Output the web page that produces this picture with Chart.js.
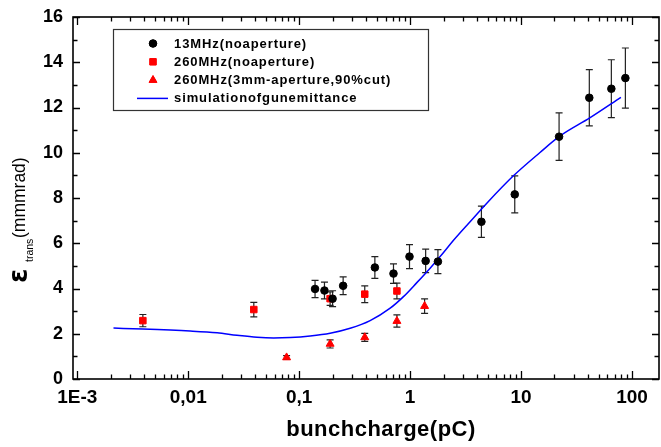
<!DOCTYPE html>
<html>
<head>
<meta charset="utf-8">
<script src="https://cdn.jsdelivr.net/npm/chart.js@4.4.0/dist/chart.umd.min.js"></script>
<style>
html,body{margin:0;padding:0;background:#fff;}
#wrap{width:661px;height:447px;}
</style>
</head>
<body>
<div id="wrap"><canvas id="emitGraph" width="661" height="447"></canvas></div>
<script>
// 13 MHz, no aperture
var qCirc=[0.139,0.169,0.20,0.249,0.481,0.708,0.987,1.38,1.78,4.39,8.77,22.0,41.2,65.1,87.1];
var eCirc=[3.98,3.91,3.55,4.12,4.93,4.66,5.41,5.22,5.19,6.95,8.16,10.71,12.43,12.83,13.30];
var errCirc=[0.38,0.37,0.35,0.39,0.48,0.43,0.53,0.52,0.53,0.69,0.82,1.05,1.24,1.28,1.33];
// 260 MHz, no aperture
var qSq=[0.0039,0.039,0.19,0.39,0.76];
var eSq=[2.58,3.07,3.55,3.75,3.89];
var errSq=[0.27,0.32,0.30,0.37,0.35];
// 260 MHz, 3mm aperture, 90% cut
var qTri=[0.077,0.19,0.39,0.76,1.35];
var eTri=[0.95,1.55,1.84,2.56,3.22];
var errTri=[0.08,0.18,0.18,0.27,0.32];
// gun emittance simulation
var qSim=[0.00212,0.0039,0.0104,0.0182,0.0275,0.0417,0.0589,0.083,0.1256,0.19,0.288,0.436,0.661,0.871,1.149,1.514,2.0,2.45,3.47,4.91,8.53,14.8,22.0,41.9,79.4];
var eSim=[2.25,2.21,2.12,2.04,1.93,1.84,1.81,1.83,1.90,2.02,2.24,2.58,3.13,3.64,4.26,4.90,5.59,6.12,6.95,7.77,8.98,10.01,10.71,11.55,12.45];

var seriesNames=["13MHz(noaperture)","260MHz(noaperture)","260MHz(3mm-aperture,90%cut)","simulationofgunemittance"];
var xTickValues=[0.001,0.01,0.1,1,10,100];
var xTickLabels=["1E-3","0,01","0,1","1","10","100"];
var xTitle="bunchcharge(pC)";

function toPoints(xs,ys){
	var pts=[];
	for(var i=0;i<xs.length;i++){ pts.push({x:xs[i],y:ys[i]}); }
	return pts;
}

var errorBars={
	id:"errorBars",
	beforeDatasetsDraw:function(chart){
		var ctx=chart.ctx, xs=chart.scales.x, ys=chart.scales.y;
		ctx.save();
		ctx.strokeStyle="#222";
		ctx.lineWidth=1.2;
		chart.data.datasets.forEach(function(ds){
			if(!ds.errors) return;
			ds.data.forEach(function(p,i){
				var px=xs.getPixelForValue(p.x);
				var top=ys.getPixelForValue(p.y+ds.errors[i]);
				var bot=ys.getPixelForValue(p.y-ds.errors[i]);
				ctx.beginPath();
				ctx.moveTo(px,top);ctx.lineTo(px,bot);
				ctx.moveTo(px-3.5,top);ctx.lineTo(px+3.5,top);
				ctx.moveTo(px-3.5,bot);ctx.lineTo(px+3.5,bot);
				ctx.stroke();
			});
		});
		ctx.restore();
	}
};

var frame={
	id:"frame",
	afterDatasetsDraw:function(chart){
		var ctx=chart.ctx, a=chart.chartArea, xs=chart.scales.x, ys=chart.scales.y;
		ctx.save();
		ctx.strokeStyle="#000";
		ctx.lineWidth=1.6;
		ctx.strokeRect(a.left,a.top,a.right-a.left,a.bottom-a.top);
		ctx.lineWidth=1.3;
		ctx.beginPath();
		// log ticks on bottom and top
		for(var d=-4;d<=2;d++){
			for(var m=1;m<=9;m++){
				var v=m*Math.pow(10,d);
				if(v<xs.min||v>xs.max) continue;
				var px=Math.round(xs.getPixelForValue(v))+0.5;
				var len=(m==1)?8:4.5;
				ctx.moveTo(px,a.bottom);ctx.lineTo(px,a.bottom-len);
				ctx.moveTo(px,a.top);ctx.lineTo(px,a.top+len);
			}
		}
		// linear ticks on left and right
		for(var y=0;y<=16;y++){
			var py=Math.round(ys.getPixelForValue(y))+0.5;
			var l=(y%2==0)?7:4.5;
			ctx.moveTo(a.left,py);ctx.lineTo(a.left+l,py);
			ctx.moveTo(a.right,py);ctx.lineTo(a.right-l,py);
		}
		ctx.stroke();
		ctx.restore();
	}
};

var legendBox={
	id:"legendBox",
	afterDraw:function(chart){
		var ctx=chart.ctx;
		var dsets=chart.data.datasets;
		ctx.save();
		ctx.strokeStyle="#333";
		ctx.lineWidth=1.2;
		ctx.strokeRect(113.5,29.5,315,81);
		ctx.font='bold 13px "Liberation Sans", Arial, sans-serif';
		ctx.textBaseline="middle";
		ctx.textAlign="left";
		ctx.fillStyle="#000";
		for(var i=0;i<dsets.length;i++){
			var ry=43.5+i*18.3;
			var ds=dsets[i];
			if(ds.showLine){
				ctx.strokeStyle=ds.borderColor;
				ctx.lineWidth=1.5;
				ctx.beginPath();ctx.moveTo(137,ry);ctx.lineTo(168,ry);ctx.stroke();
			}else{
				ctx.fillStyle=ds.backgroundColor;
				ctx.strokeStyle=ds.borderColor;
				ctx.lineWidth=1;
				Chart.helpers.drawPoint(ctx,{pointStyle:ds.pointStyle,radius:ds.pointRadius,borderWidth:1},153,ry);
				ctx.fill();
			}
			ctx.fillStyle="#000";
			ctx.letterSpacing="0.9px";
			ctx.fillText(ds.label,174,ry+0.5);
			ctx.letterSpacing="0px";
		}
		ctx.restore();
	}
};

var axisTitles={
	id:"axisTitles",
	afterDraw:function(chart){
		var ctx=chart.ctx;
		ctx.save();
		ctx.fillStyle="#000";
		ctx.textBaseline="alphabetic";
		// x title
		ctx.textAlign="center";
		ctx.font='bold 22px "Liberation Sans", Arial, sans-serif';
		ctx.letterSpacing="0.5px";
		ctx.fillText(xTitle,381,436);
		ctx.letterSpacing="0px";
		// y title, rotated: epsilon with "trans" subscript
		ctx.translate(27,283);
		ctx.rotate(-Math.PI/2);
		ctx.textAlign="left";
		ctx.font='bold 26px "DejaVu Sans", sans-serif';
		ctx.fillText("\u03b5",0,0);
		ctx.font='10.5px "Liberation Sans", Arial, sans-serif';
		ctx.fillText("trans",21,5.5);
		ctx.font='17.5px "Liberation Sans", Arial, sans-serif';
		ctx.fillText("(mmmrad)",45,-2.5);
		ctx.restore();
	}
};

function drawGraphics(){
	var ctx=document.getElementById("emitGraph").getContext("2d");
	var chartData={
		datasets:[
			{
				label:seriesNames[0],
				data:toPoints(qCirc,eCirc),
				errors:errCirc,
				pointStyle:"circle",
				pointRadius:3.8,
				backgroundColor:"#000000",
				borderColor:"#000000",
				borderWidth:1
			},
			{
				label:seriesNames[1],
				data:toPoints(qSq,eSq),
				errors:errSq,
				pointStyle:"rect",
				pointRadius:4.6,
				backgroundColor:"#ff0000",
				borderColor:"#ff0000",
				borderWidth:1
			},
			{
				label:seriesNames[2],
				data:toPoints(qTri,eTri),
				errors:errTri,
				pointStyle:"triangle",
				pointRadius:4.6,
				backgroundColor:"#ff0000",
				borderColor:"#ff0000",
				borderWidth:1
			},
			{
				label:seriesNames[3],
				data:toPoints(qSim,eSim),
				showLine:true,
				pointRadius:0,
				borderColor:"#0000ff",
				backgroundColor:"#0000ff",
				borderWidth:1.5,
				cubicInterpolationMode:"monotone",
				fill:false
			}
		]
	};
	new Chart(ctx,{
		type:"scatter",
		data:chartData,
		plugins:[errorBars,frame,legendBox,axisTitles],
		options:{
			responsive:false,
			animation:false,
			devicePixelRatio:1,
			layout:{autoPadding:false,padding:{top:17,right:2,left:0,bottom:0}},
			plugins:{legend:{display:false},tooltip:{enabled:false}},
			scales:{
				x:{
					type:"logarithmic",
					min:9.15e-4,
					max:175,
					grid:{display:false,drawTicks:false},
					border:{display:false},
					afterBuildTicks:function(scale){
						scale.ticks=xTickValues.map(function(v){return {value:v};});
					},
					afterFit:function(scale){
						scale.height=68;
						scale.paddingLeft=0;
						scale.paddingRight=0;
					},
					ticks:{
						autoSkip:false,
						maxRotation:0,
						padding:7,
						color:"#000",
						font:{family:'"Liberation Sans", Arial, sans-serif',size:19,weight:"bold"},
						callback:function(v){
							var i=xTickValues.indexOf(v);
							return i<0?"":xTickLabels[i];
						}
					}
				},
				y:{
					min:0,
					max:16,
					grid:{display:false,drawTicks:false},
					border:{display:false},
					afterFit:function(scale){
						scale.width=73;
						scale.paddingTop=0;
						scale.paddingBottom=0;
					},
					ticks:{
						stepSize:2,
						padding:10,
						color:"#000",
						font:{family:'"Liberation Sans", Arial, sans-serif',size:18,weight:"bold"}
					}
				}
			}
		}
	});
}

drawGraphics();
</script>
</body>
</html>
